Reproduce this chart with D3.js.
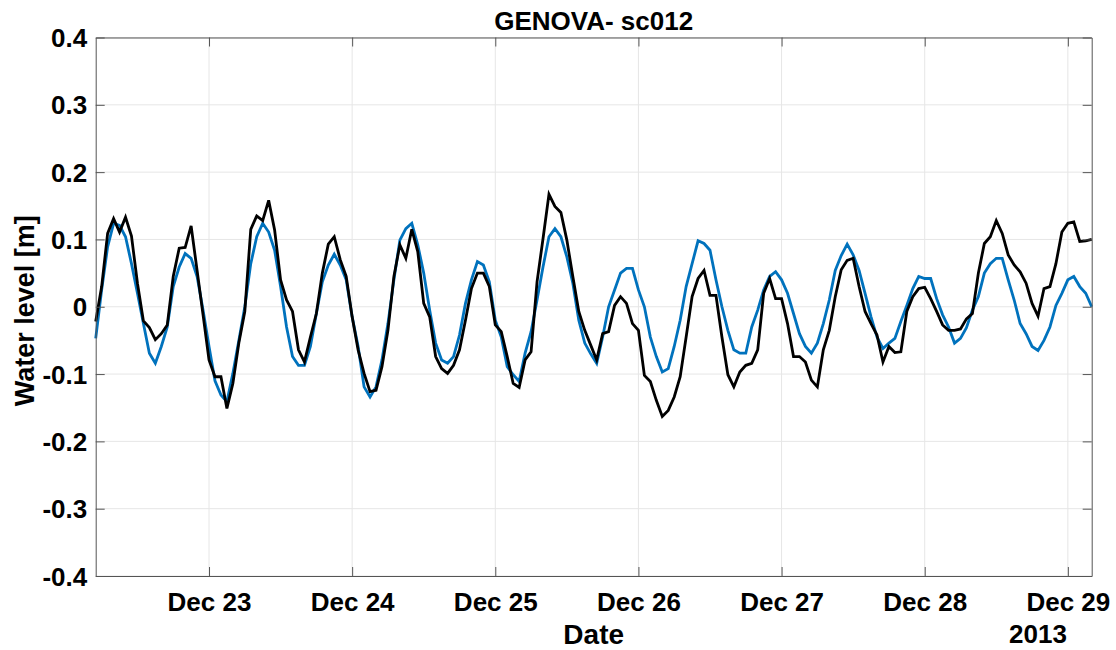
<!DOCTYPE html>
<html>
<head>
<meta charset="utf-8">
<script src="https://cdn.jsdelivr.net/npm/d3@7"></script>
<style>
  html, body { margin: 0; padding: 0; background: #ffffff; }
  svg { display: block; font-family: "Liberation Sans", Arial, Helvetica, sans-serif; }
</style>
</head>
<body>
<svg id="chart" width="1116" height="650"></svg>
<script>
// Hourly water level at Genova, 22–29 Dec 2013 (UTC), first sample 05:00 on 22 Dec
const startTime = Date.UTC(2013, 11, 22, 5, 0, 0);

// Modelled level (blue)
const modelLevel = [
  -0.047, 0.025, 0.089, 0.124, 0.121, 0.104, 0.064, 0.020, -0.025, -0.069,
  -0.084, -0.059, -0.030, 0.030, 0.059, 0.079, 0.072, 0.045, -0.005, -0.059,
  -0.110, -0.131, -0.141, -0.099, -0.050, 0.000, 0.064, 0.104, 0.124, 0.111,
  0.084, 0.030, -0.030, -0.074, -0.087, -0.087, -0.059, -0.010, 0.037, 0.062,
  0.078, 0.062, 0.040, -0.015, -0.059, -0.119, -0.134, -0.119, -0.079, -0.025,
  0.040, 0.099, 0.116, 0.124, 0.092, 0.050, -0.005, -0.054, -0.079, -0.084,
  -0.074, -0.042, 0.005, 0.040, 0.067, 0.062, 0.037, -0.020, -0.045, -0.089,
  -0.101, -0.111, -0.069, -0.037, 0.010, 0.059, 0.104, 0.116, 0.104, 0.074,
  0.035, -0.020, -0.054, -0.070, -0.084, -0.045, 0.000, 0.025, 0.050, 0.057,
  0.057, 0.025, 0.000, -0.045, -0.074, -0.097, -0.092, -0.059, -0.020, 0.030,
  0.064, 0.098, 0.094, 0.084, 0.040, 0.000, -0.035, -0.064, -0.069, -0.069,
  -0.030, -0.005, 0.025, 0.045, 0.052, 0.040, 0.020, -0.010, -0.040, -0.059,
  -0.069, -0.054, -0.025, 0.010, 0.054, 0.076, 0.093, 0.077, 0.054, 0.020,
  -0.015, -0.045, -0.062, -0.054, -0.047, -0.022, 0.002, 0.027, 0.045, 0.042,
  0.042, 0.012, -0.012, -0.030, -0.054, -0.047, -0.031, -0.005, 0.015, 0.050,
  0.064, 0.072, 0.072, 0.040, 0.010, -0.025, -0.040, -0.059, -0.065, -0.050,
  -0.030, 0.002, 0.020, 0.040, 0.045, 0.030, 0.020, 0.000
];

// Observed level from the tide gauge (black)
const observedLevel = [
  -0.022, 0.030, 0.109, 0.131, 0.111, 0.133, 0.105, 0.035, -0.021, -0.031,
  -0.049, -0.040, -0.027, 0.045, 0.087, 0.088, 0.120, 0.054, -0.012, -0.079,
  -0.104, -0.104, -0.151, -0.114, -0.054, -0.007, 0.115, 0.135, 0.128, 0.158,
  0.114, 0.040, 0.010, -0.007, -0.064, -0.082, -0.045, -0.010, 0.050, 0.093,
  0.104, 0.070, 0.045, -0.015, -0.064, -0.099, -0.126, -0.124, -0.089, -0.035,
  0.045, 0.092, 0.072, 0.115, 0.082, 0.005, -0.015, -0.074, -0.092, -0.099,
  -0.087, -0.064, -0.020, 0.027, 0.050, 0.050, 0.030, -0.027, -0.037, -0.074,
  -0.114, -0.120, -0.079, -0.067, 0.037, 0.101, 0.167, 0.149, 0.140, 0.099,
  0.045, -0.007, -0.035, -0.057, -0.079, -0.040, -0.037, 0.002, 0.015, 0.005,
  -0.025, -0.035, -0.102, -0.111, -0.139, -0.163, -0.154, -0.134, -0.104, -0.045,
  0.015, 0.042, 0.054, 0.017, 0.017, -0.045, -0.101, -0.119, -0.097, -0.087,
  -0.084, -0.064, 0.020, 0.042, 0.012, 0.012, -0.025, -0.074, -0.074, -0.082,
  -0.109, -0.119, -0.064, -0.035, 0.015, 0.055, 0.069, 0.072, 0.030, -0.007,
  -0.025, -0.042, -0.082, -0.059, -0.068, -0.067, -0.007, 0.015, 0.027, 0.029,
  0.012, -0.007, -0.027, -0.035, -0.035, -0.033, -0.018, -0.010, 0.050, 0.094,
  0.104, 0.128, 0.109, 0.077, 0.062, 0.052, 0.035, 0.005, -0.014, 0.027,
  0.030, 0.064, 0.111, 0.124, 0.126, 0.097, 0.098, 0.100
];

const yTicks = [-0.4, -0.3, -0.2, -0.1, 0, 0.1, 0.2, 0.3, 0.4];
const xTickDays = [23, 24, 25, 26, 27, 28, 29];

const titleText = "GENOVA- sc012";
const xLabel = "Date";
const yLabel = "Water level [m]";
const yearLabel = "2013";

const hour = 3600 * 1000;
const times = modelLevel.map((_, i) => new Date(startTime + i * hour));

const plot = { left: 95.7, right: 1091.7, top: 37.5, bottom: 576 };

const svg = d3.select("#chart");

const x = d3.scaleUtc()
  .domain([new Date(startTime), new Date(startTime + (modelLevel.length - 1) * hour)])
  .range([plot.left, plot.right]);

const y = d3.scaleLinear()
  .domain([-0.4, 0.4])
  .range([plot.bottom, plot.top]);

const xTickValues = xTickDays.map(d => new Date(Date.UTC(2013, 11, d)));
const fmtDay = d3.utcFormat("%b %d");
const fmtY = v => (Math.abs(v) < 1e-9 ? "0" : d3.format(".1f")(v).replace("\u2212", "-"));

// grid
const grid = svg.append("g").attr("stroke", "#e6e6e6").attr("stroke-width", 1);
grid.selectAll("line.gy").data(yTicks).join("line")
  .attr("x1", plot.left).attr("x2", plot.right)
  .attr("y1", d => y(d)).attr("y2", d => y(d));
grid.selectAll("line.gx").data(xTickValues).join("line")
  .attr("y1", plot.top).attr("y2", plot.bottom)
  .attr("x1", d => x(d)).attr("x2", d => x(d));

// series
const line = d3.line()
  .x((d, i) => x(times[i]))
  .y(d => y(d));

svg.append("path")
  .datum(modelLevel)
  .attr("fill", "none")
  .attr("stroke", "#0072BD")
  .attr("stroke-width", 2.8)
  .attr("stroke-linejoin", "miter")
  .attr("d", line);

svg.append("path")
  .datum(observedLevel)
  .attr("fill", "none")
  .attr("stroke", "#000000")
  .attr("stroke-width", 2.8)
  .attr("stroke-linejoin", "miter")
  .attr("d", line);

// axes (inward ticks on all four sides)
const tickLen = 9;
const axisColor = "#555555";
const tickFont = 26;

const gBottom = svg.append("g").attr("transform", `translate(0,${plot.bottom})`)
  .call(d3.axisBottom(x).tickValues(xTickValues).tickFormat(fmtDay).tickSizeInner(-tickLen).tickSizeOuter(0).tickPadding(17));
const gTop = svg.append("g").attr("transform", `translate(0,${plot.top})`)
  .call(d3.axisTop(x).tickValues(xTickValues).tickFormat("").tickSizeInner(-tickLen).tickSizeOuter(0));
const gLeft = svg.append("g").attr("transform", `translate(${plot.left},0)`)
  .call(d3.axisLeft(y).tickValues(yTicks).tickFormat(fmtY).tickSizeInner(-tickLen).tickSizeOuter(0).tickPadding(8.5));
const gRight = svg.append("g").attr("transform", `translate(${plot.right},0)`)
  .call(d3.axisRight(y).tickValues(yTicks).tickFormat("").tickSizeInner(-tickLen).tickSizeOuter(0));

[gBottom, gTop, gLeft, gRight].forEach(g => {
  g.select(".domain").attr("stroke", axisColor).attr("stroke-width", 1);
  g.selectAll(".tick line").attr("stroke", axisColor).attr("stroke-width", 1);
  g.selectAll(".tick text")
    .attr("fill", "#000")
    .attr("font-size", tickFont)
    .attr("font-weight", "bold")
    .attr("font-family", "'Liberation Sans', Arial, sans-serif");
});
gLeft.selectAll(".tick text").attr("dy", "0.35em");
gBottom.selectAll(".tick text").attr("dy", "0.71em");

// titles and labels
svg.append("text")
  .attr("x", (plot.left + plot.right) / 2)
  .attr("y", 30)
  .attr("text-anchor", "middle")
  .attr("font-size", 26)
  .attr("font-weight", "bold")
  .text(titleText);

svg.append("text")
  .attr("x", (plot.left + plot.right) / 2)
  .attr("y", 644)
  .attr("text-anchor", "middle")
  .attr("font-size", 28)
  .attr("font-weight", "bold")
  .text(xLabel);

svg.append("text")
  .attr("x", x(xTickValues[xTickValues.length - 1]) - 1)
  .attr("y", 643)
  .attr("text-anchor", "end")
  .attr("font-size", tickFont)
  .attr("font-weight", "bold")
  .text(yearLabel);

svg.append("text")
  .attr("transform", `translate(34,${(plot.top + plot.bottom) / 2 + 4}) rotate(-90)`)
  .attr("text-anchor", "middle")
  .attr("font-size", 27)
  .attr("font-weight", "bold")
  .text(yLabel);
</script>
</body>
</html>
